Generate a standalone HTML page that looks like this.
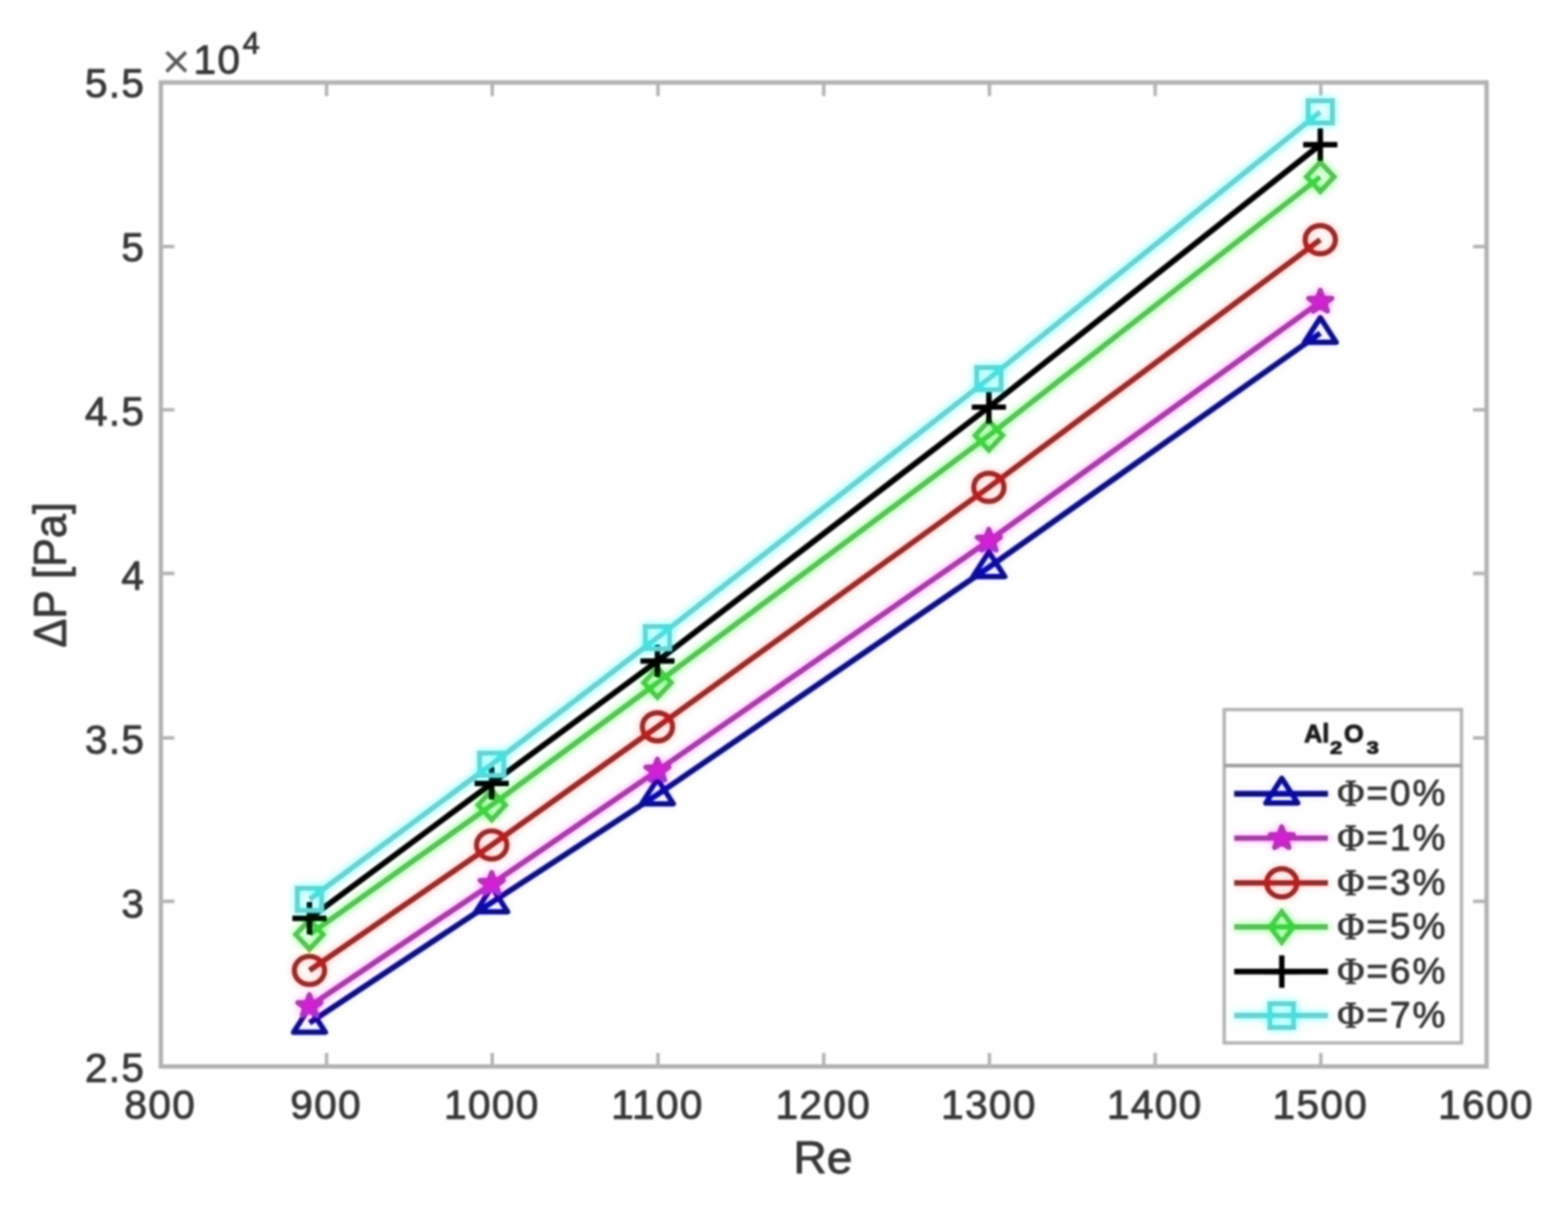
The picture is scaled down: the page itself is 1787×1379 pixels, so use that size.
<!DOCTYPE html>
<html lang="en"><head><meta charset="utf-8"><title>Pressure drop vs Reynolds number</title>
<style>html,body{margin:0;padding:0;background:#fff}body{width:1787px;height:1379px;overflow:hidden}svg{display:block}text{font-family:"Liberation Sans","DejaVu Sans",sans-serif;fill:#383838;stroke:#383838;stroke-width:1px;stroke-linejoin:round}.phi{font-family:"Liberation Serif","DejaVu Serif",serif}</style></head><body>
<svg width="1787" height="1379" viewBox="0 0 1787 1379">
<defs><filter id="jpg" filterUnits="userSpaceOnUse" x="-40" y="-40" width="1867" height="1459" color-interpolation-filters="sRGB">
<feColorMatrix in="SourceGraphic" type="matrix" values="0.299 0.587 0.114 0 0 0.299 0.587 0.114 0 0 0.299 0.587 0.114 0 0 0 0 0 1 0" result="Y"/>
<feGaussianBlur in="Y" stdDeviation="1.30" result="Yb"/>
<feColorMatrix in="SourceGraphic" type="matrix" values="0.3505 -0.2935 -0.057 0 0.50196 -0.1495 0.2065 -0.057 0 0.50196 -0.1495 -0.2935 0.443 0 0.50196 0 0 0 1 0" result="C"/>
<feGaussianBlur in="C" stdDeviation="4.60" result="Cb"/>
<feComposite in="Yb" in2="Cb" operator="arithmetic" k1="0" k2="1" k3="1.4800" k4="-0.7429"/>
</filter></defs>
<g filter="url(#jpg)">
<rect x="-40" y="-40" width="1867" height="1459" fill="#ffffff"/>
<rect x="183.3" y="94.0" width="1510.9" height="1121.4" fill="none" stroke="#b2b2b2" stroke-width="5.0"/>
<g stroke="#b4b4b4" stroke-width="4.0" fill="none">
<path d="M372.2 1215.4V1199.9M372.2 94.0V109.5"/>
<path d="M561.0 1215.4V1199.9M561.0 94.0V109.5"/>
<path d="M749.9 1215.4V1199.9M749.9 94.0V109.5"/>
<path d="M938.8 1215.4V1199.9M938.8 94.0V109.5"/>
<path d="M1127.6 1215.4V1199.9M1127.6 94.0V109.5"/>
<path d="M1316.5 1215.4V1199.9M1316.5 94.0V109.5"/>
<path d="M1505.3 1215.4V1199.9M1505.3 94.0V109.5"/>
<path d="M183.3 1027.3H198.8M1694.2 1027.3H1678.7"/>
<path d="M183.3 840.9H198.8M1694.2 840.9H1678.7"/>
<path d="M183.3 653.5H198.8M1694.2 653.5H1678.7"/>
<path d="M183.3 467.1H198.8M1694.2 467.1H1678.7"/>
<path d="M183.3 280.9H198.8M1694.2 280.9H1678.7"/>
</g>
<text transform="translate(182.7 1275.0) scale(0.990 1)" font-size="46.8" text-anchor="middle" letter-spacing="1.50">800</text>
<text transform="translate(371.6 1275.0) scale(0.990 1)" font-size="46.8" text-anchor="middle" letter-spacing="1.50">900</text>
<text transform="translate(560.5 1275.0) scale(0.990 1)" font-size="46.8" text-anchor="middle" letter-spacing="1.50">1000</text>
<text transform="translate(749.3 1275.0) scale(0.990 1)" font-size="46.8" text-anchor="middle" letter-spacing="1.50">1100</text>
<text transform="translate(938.2 1275.0) scale(0.990 1)" font-size="46.8" text-anchor="middle" letter-spacing="1.50">1200</text>
<text transform="translate(1127.1 1275.0) scale(0.990 1)" font-size="46.8" text-anchor="middle" letter-spacing="1.50">1300</text>
<text transform="translate(1315.9 1275.0) scale(0.990 1)" font-size="46.8" text-anchor="middle" letter-spacing="1.50">1400</text>
<text transform="translate(1504.8 1275.0) scale(0.990 1)" font-size="46.8" text-anchor="middle" letter-spacing="1.50">1500</text>
<text transform="translate(1693.6 1275.0) scale(0.990 1)" font-size="46.8" text-anchor="middle" letter-spacing="1.50">1600</text>
<text transform="translate(165.5 1232.6) scale(0.990 1)" font-size="46.8" text-anchor="end" letter-spacing="1.50">2.5</text>
<text transform="translate(165.5 1045.7) scale(0.990 1)" font-size="46.8" text-anchor="end" letter-spacing="1.50">3</text>
<text transform="translate(165.5 858.8) scale(0.990 1)" font-size="46.8" text-anchor="end" letter-spacing="1.50">3.5</text>
<text transform="translate(165.5 671.9) scale(0.990 1)" font-size="46.8" text-anchor="end" letter-spacing="1.50">4</text>
<text transform="translate(165.5 485.0) scale(0.990 1)" font-size="46.8" text-anchor="end" letter-spacing="1.50">4.5</text>
<text transform="translate(165.5 298.1) scale(0.990 1)" font-size="46.8" text-anchor="end" letter-spacing="1.50">5</text>
<text transform="translate(165.5 111.2) scale(0.990 1)" font-size="46.8" text-anchor="end" letter-spacing="1.50">5.5</text>
<text transform="translate(184.5 89.0) scale(1.000 1)" font-size="56" text-anchor="start" style="stroke-width:0;fill:#5a5a5a">×</text>
<text transform="translate(220.5 83.5) scale(0.990 1)" font-size="46.8" text-anchor="start" letter-spacing="1.50">10</text>
<text transform="translate(276.5 60.5) scale(0.990 1)" font-size="35.5" text-anchor="start">4</text>
<text transform="translate(937.8 1337.0) scale(1.000 1)" font-size="52.5" text-anchor="middle">Re</text>
<text transform="translate(75.0 655.2) rotate(-90) scale(0.935 1)" font-size="52.5" text-anchor="middle">ΔP [Pa]</text>
<g fill="none" stroke="#0000ff" stroke-linejoin="miter">
<path d="M352.7 1165.8L560.4 1028.5L749.3 905.5L1127.0 646.5L1504.7 379.6" stroke-width="6.6" stroke-linejoin="round"/>
<g stroke-width="6.2">
<path stroke-linejoin="round" d="M352.7 1148.2L370.8 1176.4L334.6 1176.4Z"/>
<path stroke-linejoin="round" d="M560.4 1010.9L578.5 1039.1L542.3 1039.1Z"/>
<path stroke-linejoin="round" d="M749.3 887.9L767.4 916.1L731.2 916.1Z"/>
<path stroke-linejoin="round" d="M1127.0 628.9L1145.1 657.1L1108.9 657.1Z"/>
<path stroke-linejoin="round" d="M1504.7 362.0L1522.8 390.2L1486.6 390.2Z"/>
</g></g>
<g fill="none" stroke="#ff00ff" stroke-linejoin="miter">
<path d="M352.7 1146.7L560.4 1007.4L749.3 878.3L1127.0 616.3L1504.7 344.0" stroke-width="6.6" stroke-linejoin="round"/>
<g stroke-width="6.2">
<path stroke-linejoin="round" fill="#ff00ff" d="M352.7 1133.7L356.1 1142.3L365.8 1142.7L358.2 1148.4L360.8 1157.2L352.7 1152.2L344.6 1157.2L347.2 1148.4L339.6 1142.7L349.3 1142.3Z"/>
<path stroke-linejoin="round" fill="#ff00ff" d="M560.4 994.4L563.8 1003.0L573.5 1003.4L565.9 1009.1L568.5 1017.9L560.4 1012.9L552.3 1017.9L554.9 1009.1L547.3 1003.4L557.0 1003.0Z"/>
<path stroke-linejoin="round" fill="#ff00ff" d="M749.3 865.3L752.7 873.9L762.4 874.3L754.8 880.0L757.4 888.8L749.3 883.8L741.2 888.8L743.8 880.0L736.2 874.3L745.9 873.9Z"/>
<path stroke-linejoin="round" fill="#ff00ff" d="M1127.0 603.3L1130.4 611.9L1140.1 612.3L1132.5 618.0L1135.1 626.8L1127.0 621.8L1118.9 626.8L1121.5 618.0L1113.9 612.3L1123.6 611.9Z"/>
<path stroke-linejoin="round" fill="#ff00ff" d="M1504.7 331.0L1508.1 339.6L1517.8 340.0L1510.2 345.7L1512.8 354.5L1504.7 349.5L1496.6 354.5L1499.2 345.7L1491.6 340.0L1501.3 339.6Z"/>
</g></g>
<g fill="none" stroke="#ff0000" stroke-linejoin="miter">
<path d="M352.7 1106.0L560.4 963.0L749.3 828.3L1127.0 555.4L1504.7 273.2" stroke-width="6.6" stroke-linejoin="round"/>
<g stroke-width="6.2">
<ellipse cx="352.7" cy="1106.0" rx="17.2" ry="16.0"/>
<ellipse cx="560.4" cy="963.0" rx="17.2" ry="16.0"/>
<ellipse cx="749.3" cy="828.3" rx="17.2" ry="16.0"/>
<ellipse cx="1127.0" cy="555.4" rx="17.2" ry="16.0"/>
<ellipse cx="1504.7" cy="273.2" rx="17.2" ry="16.0"/>
</g></g>
<g fill="none" stroke="#00ff00" stroke-linejoin="miter">
<path d="M352.7 1065.0L560.4 917.5L749.3 778.0L1127.0 496.3L1504.7 201.5" stroke-width="6.6" stroke-linejoin="round"/>
<g stroke-width="6.2">
<path d="M352.7 1048.4L368.3 1065.0L352.7 1081.6L337.1 1065.0Z"/>
<path d="M560.4 900.9L576.0 917.5L560.4 934.1L544.8 917.5Z"/>
<path d="M749.3 761.4L764.9 778.0L749.3 794.6L733.7 778.0Z"/>
<path d="M1127.0 479.7L1142.6 496.3L1127.0 512.9L1111.4 496.3Z"/>
<path d="M1504.7 184.9L1520.3 201.5L1504.7 218.1L1489.1 201.5Z"/>
</g></g>
<g fill="none" stroke="#000000" stroke-linejoin="miter">
<path d="M352.7 1046.6L560.4 892.8L749.3 753.3L1127.0 464.0L1504.7 164.8" stroke-width="6.6" stroke-linejoin="round"/>
<g stroke-width="6.2">
<path d="M333.2 1046.6H372.2M352.7 1028.1V1065.1"/>
<path d="M540.9 892.8H579.9M560.4 874.3V911.3"/>
<path d="M729.8 753.3H768.8M749.3 734.8V771.8"/>
<path d="M1107.5 464.0H1146.5M1127.0 445.5V482.5"/>
<path d="M1485.2 164.8H1524.2M1504.7 146.3V183.3"/>
</g></g>
<g fill="none" stroke="#00ffff" stroke-linejoin="miter">
<path d="M352.7 1025.0L560.4 871.0L749.3 726.7L1127.0 431.5L1504.7 127.5" stroke-width="6.6" stroke-linejoin="round"/>
<g stroke-width="6.2">
<rect x="338.9" y="1012.4" width="27.6" height="25.2"/>
<rect x="546.6" y="858.4" width="27.6" height="25.2"/>
<rect x="735.5" y="714.1" width="27.6" height="25.2"/>
<rect x="1113.2" y="418.9" width="27.6" height="25.2"/>
<rect x="1490.9" y="114.9" width="27.6" height="25.2"/>
</g></g>
<rect x="1395.2" y="808.7" width="270.4" height="379.9" fill="#ffffff" stroke="#b2b2b2" stroke-width="3.8"/>
<path d="M1395.2 872.5H1665.6" stroke="#9c9c9c" stroke-width="3.8" fill="none"/>
<g font-weight="bold" style="fill:#1c1c1c;stroke:#1c1c1c;stroke-width:1.1px"><text transform="translate(1486.2 845.8) scale(0.96 1)" font-size="30" style="fill:inherit;stroke:inherit;stroke-width:inherit">Al</text><text transform="translate(1515.8 859.4) scale(1.22 1)" font-size="20.5" style="fill:inherit;stroke:inherit;stroke-width:inherit">2</text><text transform="translate(1531.8 845.8) scale(0.96 1)" font-size="30" style="fill:inherit;stroke:inherit;stroke-width:inherit">O</text><text transform="translate(1557.4 859.4) scale(1.22 1)" font-size="20.5" style="fill:inherit;stroke:inherit;stroke-width:inherit">3</text></g>
<g fill="none" stroke="#0000ff">
<path d="M1406.5 904.6H1513.5" stroke-width="6.6"/>
<g stroke-width="6.2">
<path stroke-linejoin="round" d="M1460.8 887.0L1478.9 915.2L1442.7 915.2Z"/>
</g></g>
<text transform="translate(1524.0 918.2) scale(1.000 1)" font-size="42.3" text-anchor="start" letter-spacing="2.20"><tspan class="phi">Φ</tspan>=0%</text>
<g fill="none" stroke="#ff00ff">
<path d="M1406.5 955.3H1513.5" stroke-width="6.6"/>
<g stroke-width="6.2">
<path stroke-linejoin="round" fill="#ff00ff" d="M1460.8 942.3L1464.2 950.9L1473.9 951.3L1466.3 957.0L1468.9 965.8L1460.8 960.8L1452.7 965.8L1455.3 957.0L1447.7 951.3L1457.4 950.9Z"/>
</g></g>
<text transform="translate(1524.0 968.9) scale(1.000 1)" font-size="42.3" text-anchor="start" letter-spacing="2.20"><tspan class="phi">Φ</tspan>=1%</text>
<g fill="none" stroke="#ff0000">
<path d="M1406.5 1006.2H1513.5" stroke-width="6.6"/>
<g stroke-width="6.2">
<ellipse cx="1460.8" cy="1006.2" rx="17.2" ry="16.0"/>
</g></g>
<text transform="translate(1524.0 1019.8) scale(1.000 1)" font-size="42.3" text-anchor="start" letter-spacing="2.20"><tspan class="phi">Φ</tspan>=3%</text>
<g fill="none" stroke="#00ff00">
<path d="M1406.5 1056.4H1513.5" stroke-width="6.6"/>
<g stroke-width="6.2">
<path d="M1460.8 1039.2L1474.0 1056.4L1460.8 1073.6L1447.6 1056.4Z"/>
</g></g>
<text transform="translate(1524.0 1070.0) scale(1.000 1)" font-size="42.3" text-anchor="start" letter-spacing="2.20"><tspan class="phi">Φ</tspan>=5%</text>
<g fill="none" stroke="#000000">
<path d="M1406.5 1107.2H1513.5" stroke-width="6.6"/>
<g stroke-width="6.2">
<path d="M1441.3 1107.2H1480.3M1460.8 1088.7V1125.7"/>
</g></g>
<text transform="translate(1524.0 1120.8) scale(1.000 1)" font-size="42.3" text-anchor="start" letter-spacing="2.20"><tspan class="phi">Φ</tspan>=6%</text>
<g fill="none" stroke="#00ffff">
<path d="M1406.5 1157.4H1513.5" stroke-width="6.6"/>
<g stroke-width="6.2">
<rect x="1447.3" y="1143.9" width="27.0" height="27.0"/>
</g></g>
<text transform="translate(1524.0 1171.0) scale(1.000 1)" font-size="42.3" text-anchor="start" letter-spacing="2.20"><tspan class="phi">Φ</tspan>=7%</text>
</g>
</svg></body></html>
